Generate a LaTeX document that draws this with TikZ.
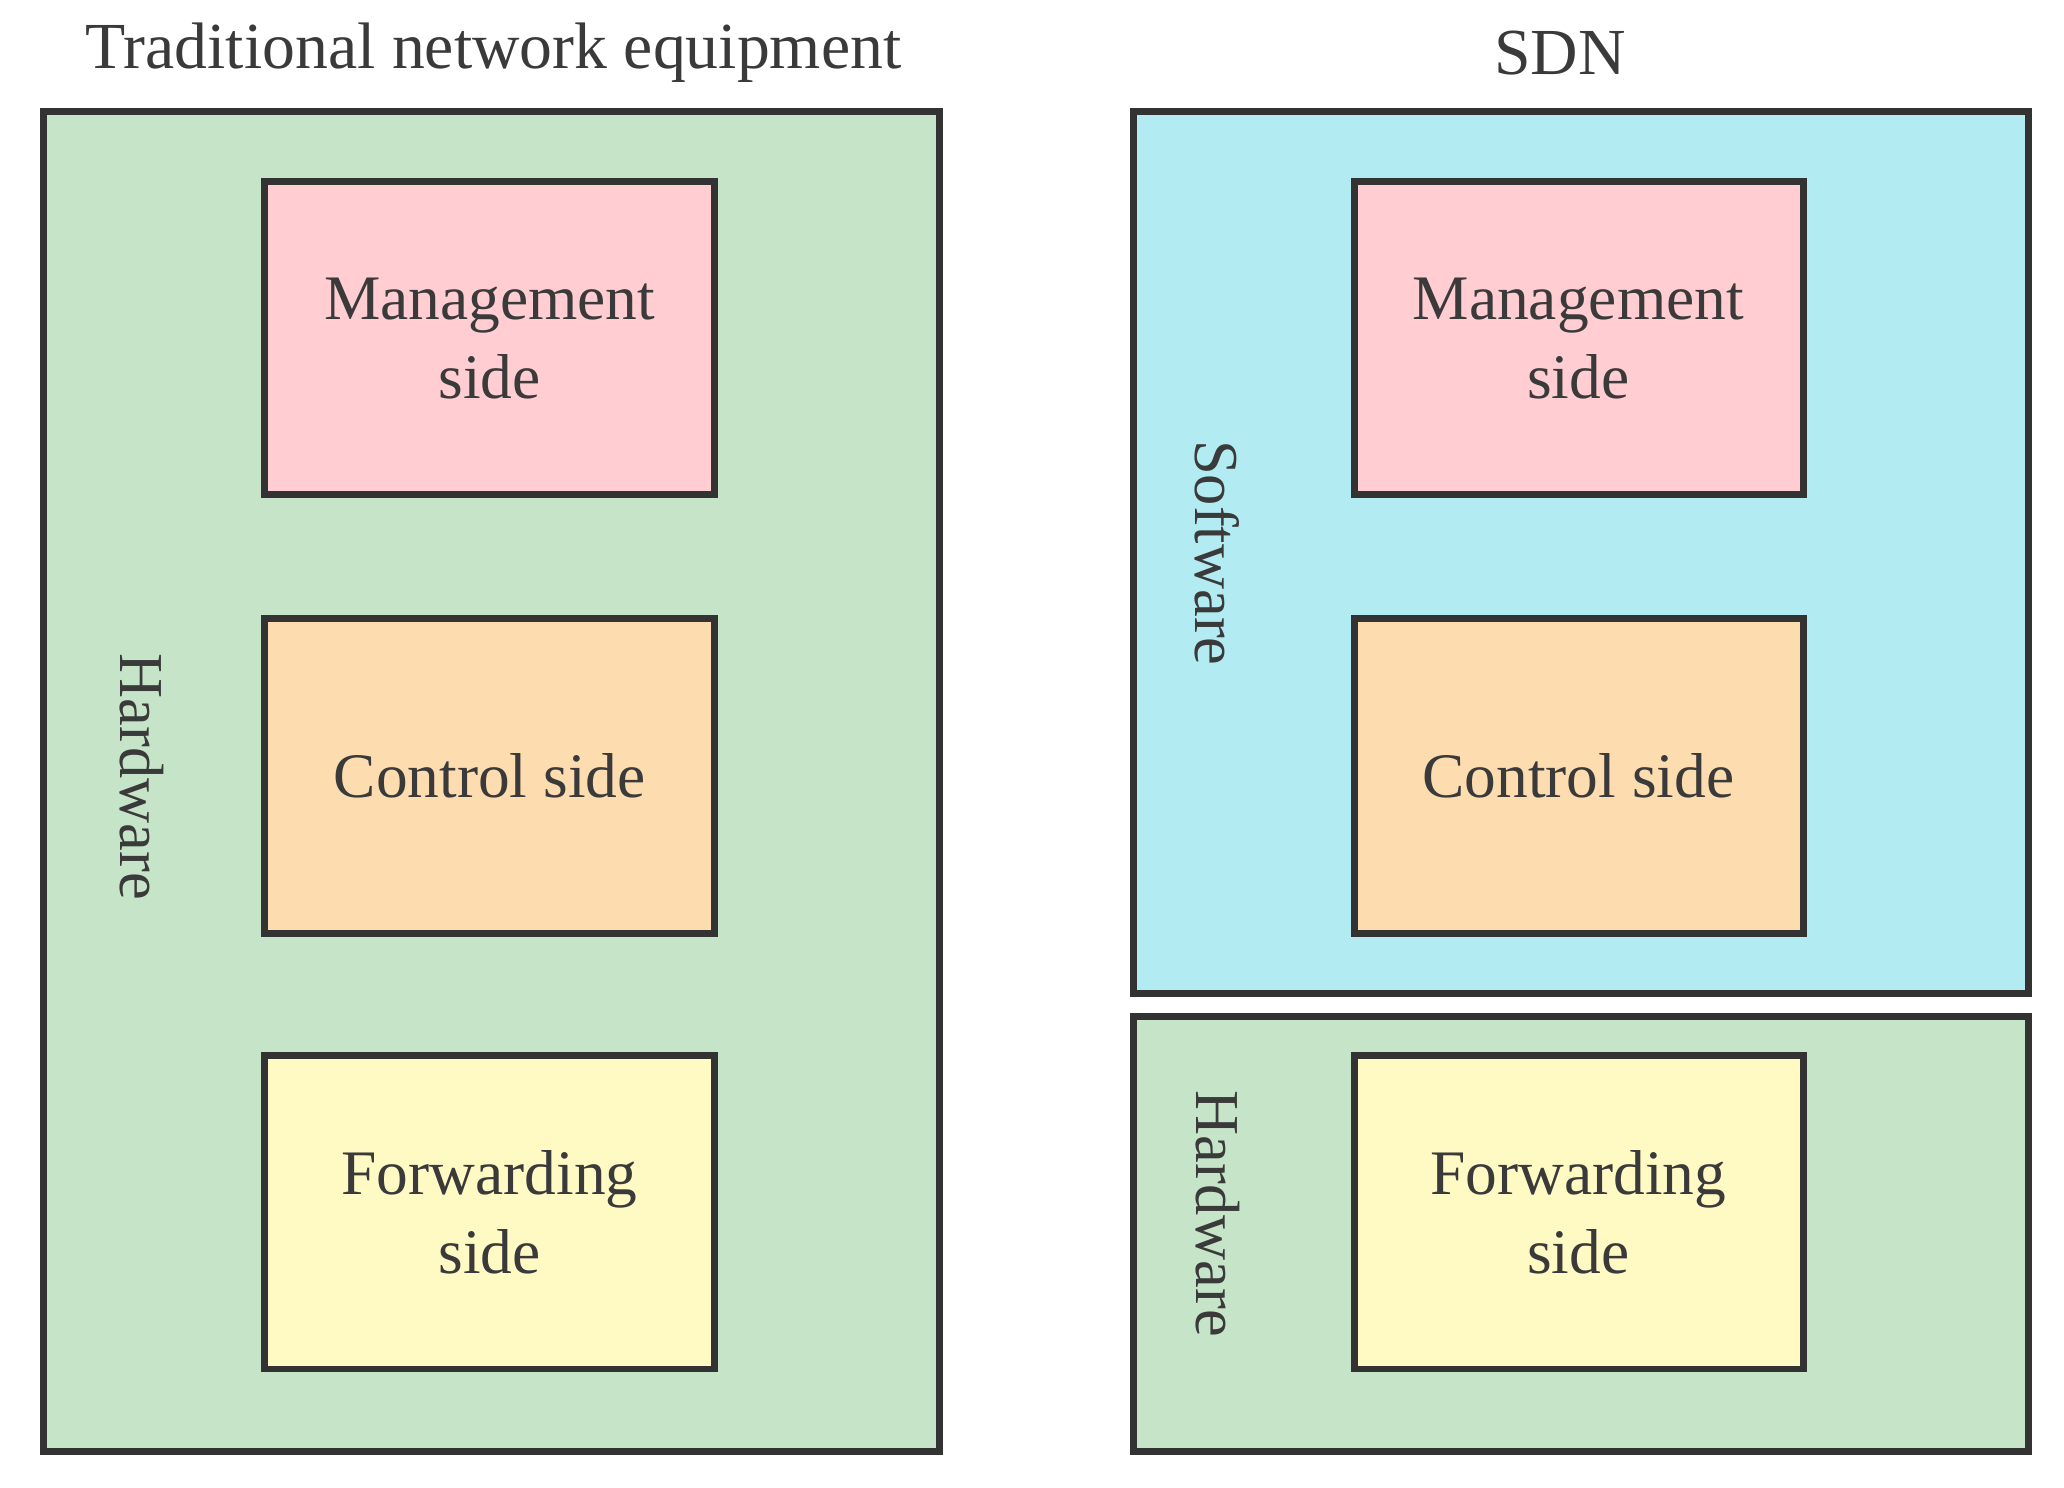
\documentclass[tikz,border=0pt]{standalone}
\usepackage{fontspec}
\setmainfont{Liberation Serif}
\definecolor{hw}{HTML}{C6E5C8}
\definecolor{sw}{HTML}{B2EBF2}
\definecolor{mg}{HTML}{FFCDD2}
\definecolor{ct}{HTML}{FDDCB0}
\definecolor{fw}{HTML}{FFF9C4}
\definecolor{ln}{HTML}{333333}
\definecolor{tx}{HTML}{3A3A3A}
\begin{document}
\begin{tikzpicture}[x=0.01cm,y=-0.01cm,
  box/.style={draw=ln,line width=1.5pt},
  lbl/.style={text=tx,font=\fontsize{13.7}{17}\selectfont,align=center},
  side/.style={text=tx,font=\fontsize{13.5}{17}\selectfont,rotate=-90}]
\useasboundingbox (0,0) rectangle (1568,1130);
% left
\draw[box,fill=hw] (33,85) rectangle (714,1103);
\node[lbl] (t1) at (375,40) {\fontsize{14.2}{17}\selectfont Traditional network equipment};
\node[side] (hw1) at (108,590) {Hardware};
\draw[box,fill=mg] (201,138) rectangle (543,376);
\node[lbl] (m1) at (372,257) {Management\\side};
\draw[box,fill=ct] (201,470) rectangle (543,709);
\node[lbl] (c1) at (372,589) {Control side};
\draw[box,fill=fw] (201,802) rectangle (543,1040);
\node[lbl] (f1) at (372,921) {Forwarding\\side};
% right
\node[lbl] (t2) at (1185,40) {\fontsize{14.2}{17}\selectfont SDN};
\draw[box,fill=sw] (861,85) rectangle (1541,755);
\draw[box,fill=hw] (861,772) rectangle (1541,1103);
\node[side] (sw2) at (925,420) {Software};
\node[side] (hw2) at (925,922) {Hardware};
\draw[box,fill=mg] (1029,138) rectangle (1370,376);
\node[lbl] (m2) at (1199,257) {Management\\side};
\draw[box,fill=ct] (1029,470) rectangle (1370,709);
\node[lbl] (c2) at (1199,589) {Control side};
\draw[box,fill=fw] (1029,802) rectangle (1370,1040);
\node[lbl] (f2) at (1199,921) {Forwarding\\side};
\end{tikzpicture}
\end{document}
